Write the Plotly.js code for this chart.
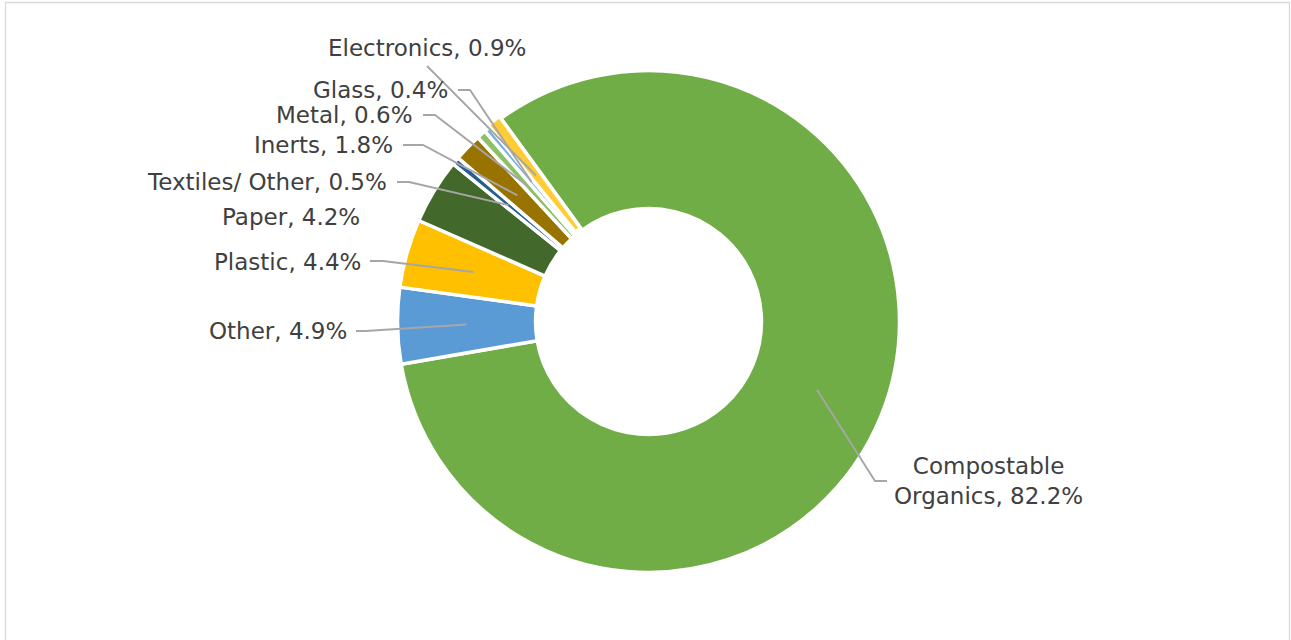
<!DOCTYPE html>
<html>
<head>
<meta charset="utf-8">
<script src="https://cdn.plot.ly/plotly-3.0.1.min.js"></script>
<style>
html,body{margin:0;padding:0;background:#ffffff;}
#chart{width:1291px;height:640px;}
</style>
</head>
<body>
<div id="chart"></div>
<script>
// ---- data ----
const categories = ["Compostable Organics", "Other", "Plastic", "Paper", "Textiles/ Other", "Inerts", "Metal", "Glass", "Electronics"];
const values = [82.2, 4.9, 4.4, 4.2, 0.5, 1.8, 0.6, 0.4, 0.9];
const labelTexts = ["Compostable<br>Organics, 82.2%", "Other, 4.9%", "Plastic, 4.4%", "Paper, 4.2%", "Textiles/ Other, 0.5%", "Inerts, 1.8%", "Metal, 0.6%", "Glass, 0.4%", "Electronics, 0.9%"];
const colors = ["#70AD47", "#5B9BD5", "#FFC000", "#43682B", "#255E91", "#997300", "#8CC168", "#7CAFDD", "#FFCD33"];

// ---- layout / style (pixels) ----
const W = 1291, H = 640;
const CX = 648.5, CY = 321.5, R = 251, HOLE = 0.45, ROT = -36;
const pulls = [0, 0, 0, 0, 0, 0, 0, 0, 0.01];
const labelX = [988.5, 347, 361, 360, 387, 393, 413, 448, 427];
const labelY = [481, 331, 262, 216.5, 182, 145.5, 115.5, 90.5, 48];
const labelAnchor = ["center", "right", "right", "right", "right", "right", "right", "right", "center"];
const showLeader = [true, true, true, false, true, true, true, true, true];
const leaderEnd = [[887, 481], [356, 331], [370, 261], null, [397, 182], [403, 145], [423, 115], [458, 90], [427, 66]];
const leaderElbow = [[875, 481], [366, 331], [383, 261], null, [409, 182], [423, 145], [435, 115], [470, 90], [427, 66]];

const FONT = {family: "DejaVu Sans, Arial, sans-serif", size: 23, color: "#404040"};

const px = x => x / W;
const py = y => 1 - y / H;

const maxPull = Math.max(...pulls);
const half = R * (1 + maxPull);
const domain = {x: [px(CX - half), px(CX + half)], y: [py(CY + half), py(CY - half)]};

// leader start points from slice mid-angles
const total = values.reduce((a, b) => a + b, 0);
const rMid = R * (1 + HOLE) / 2;
let cum = 0;
const shapes = [];
const annotations = [];
values.forEach((v, i) => {
  const midDeg = ROT + (cum + v / 2) / total * 360;
  cum += v;
  const a = midDeg * Math.PI / 180;
  const r = rMid + pulls[i] * R;
  const sx = CX + r * Math.sin(a);
  const sy = CY - r * Math.cos(a);
  if (showLeader[i]) {
    const e = leaderElbow[i], t = leaderEnd[i];
    shapes.push({
      type: "path", xref: "paper", yref: "paper",
      path: `M ${px(sx)} ${py(sy)} L ${px(e[0])} ${py(e[1])} L ${px(t[0])} ${py(t[1])}`,
      line: {color: "#A6A6A6", width: 1.9}
    });
  }
  annotations.push({
    xref: "paper", yref: "paper", x: px(labelX[i]), y: py(labelY[i]),
    xanchor: labelAnchor[i], yanchor: "middle", showarrow: false,
    text: labelTexts[i], font: FONT, align: "center",
    borderpad: 0, borderwidth: 0
  });
});

// chart frame
shapes.push({
  type: "rect", xref: "paper", yref: "paper",
  x0: px(5.5), x1: px(1289.5), y0: py(660), y1: py(2.5),
  line: {color: "#D9D9D9", width: 1.3}, fillcolor: "rgba(0,0,0,0)", layer: "below"
});

const trace = {
  type: "pie",
  labels: categories,
  values: values,
  sort: false,
  direction: "clockwise",
  rotation: ROT,
  hole: HOLE,
  pull: pulls,
  domain: domain,
  marker: {colors: colors, line: {color: "#FFFFFF", width: 3.5}},
  textinfo: "none",
  hoverinfo: "skip",
  showlegend: false
};

const layout = {
  width: W, height: H,
  margin: {l: 0, r: 0, t: 0, b: 0, pad: 0},
  paper_bgcolor: "#FFFFFF",
  plot_bgcolor: "#FFFFFF",
  showlegend: false,
  shapes: shapes,
  annotations: annotations
};

Plotly.newPlot("chart", [trace], layout, {displayModeBar: false, staticPlot: true});
</script>
</body>
</html>
